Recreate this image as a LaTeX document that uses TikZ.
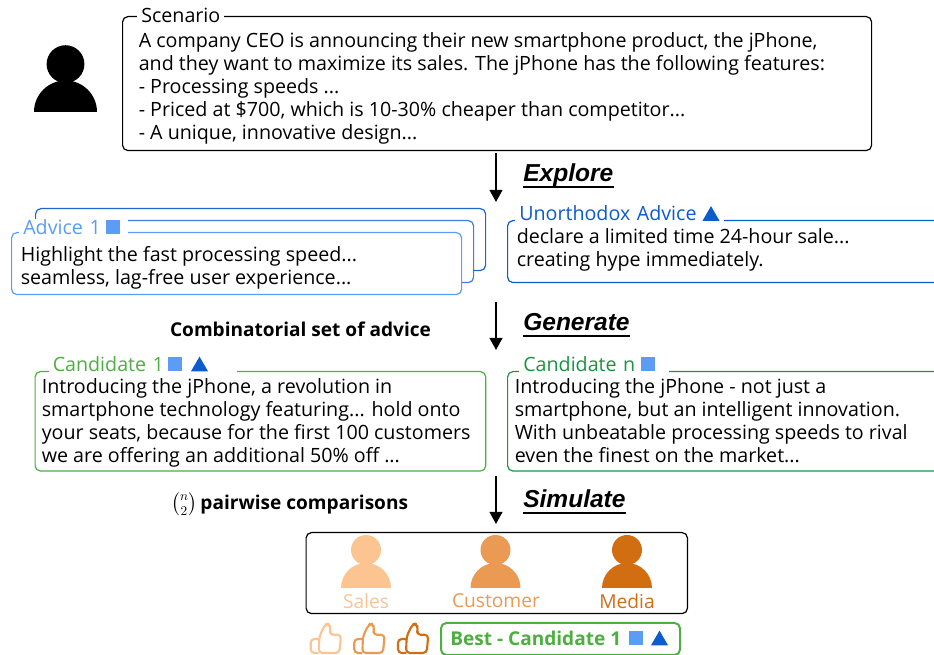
\documentclass[tikz,border=0pt]{standalone}
\usepackage{amsmath}
\usepackage{fontspec}
\setmainfont{Open Sans}
\newfontfamily\headfont{Liberation Sans}
\usetikzlibrary{arrows.meta,positioning,shapes.geometric}

\definecolor{advicea}{HTML}{5B9CF5}
\definecolor{adviceb}{HTML}{3A7FE0}
\definecolor{advicec}{HTML}{1F66CC}
\definecolor{unortho}{HTML}{0B5CCE}
\definecolor{canda}{HTML}{4CAF3F}
\definecolor{candn}{HTML}{1B9440}
\definecolor{sales}{HTML}{FBC490}
\definecolor{customer}{HTML}{EA9A53}
\definecolor{media}{HTML}{D26E12}

\tikzset{
    box/.style = {draw, rounded corners=4pt, line width=0.9pt, anchor=north west, inner sep=0pt},
    bodytext/.style = {anchor=west, align=left, inner sep=0pt, font=\fontsize{14.75}{17.25}\selectfont},
    titletext/.style = {anchor=west, align=left, fill=white, inner xsep=3pt, inner ysep=1pt, font=\fontsize{14.75}{17.25}\selectfont},
    boldtext/.style = {inner sep=0pt, font=\fontsize{14.3}{16}\selectfont\bfseries},
    headtext/.style = {anchor=base west, inner sep=0pt, text depth=3.8pt, font=\fontsize{18.4}{20}\headfont\bfseries\itshape},
    headline/.style = {line width=1.4pt},
    step arrow/.style = {line width=1.4pt, -{Triangle[length=9pt,width=9.5pt]}},
    sqmark/.style = {fill=advicea, minimum size=10.5pt, inner sep=0pt},
    trimark/.style = {fill=unortho, regular polygon, regular polygon sides=3, minimum size=14.7pt, inner sep=0pt, yshift=-1.8pt},
    rolelabel/.style = {inner sep=0pt, font=\fontsize{14.4}{16}\selectfont},
    person/.pic = {
        \fill[pic actions] (0,38) circle (15);
        \fill[pic actions] (-25,0) arc (180:0:25) -- cycle;
    },
    thumb/.pic = {
        \draw[pic actions, line width=1.6pt, rounded corners=2.8pt, line join=round]
            (-6.3,1.7) -- (-0.7,13.5) -- (3.5,14.5) -- (5,9) -- (3.7,3.3) -- (15.3,3.3) -- (13.7,-15) -- (-7,-15) -- cycle;
        \draw[pic actions, line width=1.6pt, rounded corners=2.8pt]
            (-6.8,-1) -- (-15,-1) -- (-15,-15) -- (-7,-15);
    }
}

\begin{document}
\begin{tikzpicture}[x=0.75pt,y=0.75pt]
\useasboundingbox (0,0) rectangle (934,655);

\pic[fill=black,scale=1.26] (user) at (65.5,543) {person};

\node[box, minimum width=561.75pt, minimum height=100.5pt] (scenario) at (122,639) {};
\node[titletext] (scenariotitle) at (137,640) {Scenario};
\node[bodytext] (scenariotext) at (138.5,566.5) {A company CEO is announcing their new smartphone product, the jPhone,\\
and they want to maximize its sales. The jPhone has the following features:\\
- Processing speeds ...\\
- Priced at \$700, which is 10-30\% cheaper than competitor...\\
- A unique, innovative design...};

\coordinate (explorestart) at (496,502);
\coordinate (exploreend) at (496,453);
\draw[step arrow] (explorestart) -- (exploreend);
\node[headtext] (explore) at (523,473) {Explore};
\draw[headline] (explore.south west) -- (explore.south east);

\node[box, draw=advicec, minimum width=337.5pt, minimum height=46.5pt] (advicethree) at (35,447) {};
\node[box, draw=adviceb, fill=white, minimum width=337.5pt, minimum height=46.5pt] (advicetwo) at (23,435) {};
\node[box, draw=advicea, fill=white, minimum width=337.5pt, minimum height=46.5pt] (adviceone) at (11,423) {};
\node[titletext, text=advicea, text width=75.75pt, inner ysep=0pt] (advicetitle) at (19,428) {Advice 1};
\node[sqmark] (advicesq) at (113,428) {};
\node[bodytext] (advicetext) at (20.5,387.5) {Highlight the fast processing speed...\\
seamless, lag-free user experience...};

\node[box, draw=unortho, minimum width=375pt, minimum height=46.5pt] (unorthodox) at (507,435) {};
\node[titletext, text=unortho, text width=150.75pt] (unorthodoxtitle) at (515,442) {Unorthodox Advice};
\node[trimark] (unorthodoxtri) at (711,441.5) {};
\node[bodytext] (unorthodoxtext) at (516.5,405.5) {declare a limited time 24-hour sale...\\
creating hype immediately.};

\coordinate (generatestart) at (496,353);
\coordinate (generateend) at (496,305);
\draw[step arrow] (generatestart) -- (generateend);
\node[headtext] (generate) at (523,324) {Generate};
\draw[headline] (generate.south west) -- (generate.south east);
\node[boldtext] (combinatorial) at (300.5,326) {Combinatorial set of advice};

\node[box, draw=canda, minimum width=338pt, minimum height=74.6pt] (candone) at (34.5,284) {};
\node[titletext, text=canda, text width=135pt] (candonetitle) at (48.5,291) {Candidate 1};
\node[sqmark] (candonesq) at (175,291) {};
\node[trimark] (candonetri) at (199.5,291) {};
\node[bodytext] (candonetext) at (41.5,232.5) {Introducing the jPhone, a revolution in\\
smartphone technology featuring... hold onto\\
your seats, because for the first 100 customers\\
we are offering an additional 50\% off ...};

\node[box, draw=candn, minimum width=375pt, minimum height=74.6pt] (candlast) at (507,284) {};
\node[titletext, text=candn, text width=106pt] (candlasttitle) at (519,291) {Candidate n};
\node[sqmark] (candlastsq) at (648,291) {};
\node[bodytext] (candlasttext) at (514.5,234.5) {Introducing the jPhone - not just a\\
smartphone, but an intelligent innovation.\\
With unbeatable processing speeds to rival\\
even the finest on the market...};

\coordinate (simulatestart) at (496,179);
\coordinate (simulateend) at (496,131);
\draw[step arrow] (simulatestart) -- (simulateend);
\node[headtext] (simulate) at (523,147) {Simulate};
\draw[headline] (simulate.south west) -- (simulate.south east);
\node[boldtext, anchor=west] (pairwise) at (171,150.5) {$\binom{n}{2}$\hspace{-1pt} pairwise comparisons};

\node[box, minimum width=286pt, minimum height=60.75pt] (panel) at (305.5,123) {};
\pic[fill=sales] (salesicon) at (366,67) {person};
\pic[fill=customer] (customericon) at (495.5,67) {person};
\pic[fill=media] (mediaicon) at (627,67) {person};
\node[rolelabel, text=sales] (saleslabel) at (366,54) {Sales};
\node[rolelabel, text=customer] (customerlabel) at (496,54) {Customer};
\node[rolelabel, text=media] (medialabel) at (627,54) {Media};

\pic[draw=sales] (salesthumb) at (325.7,17) {thumb};
\pic[draw=customer] (customerthumb) at (369.3,17) {thumb};
\pic[draw=media] (mediathumb) at (413,17) {thumb};

\node[box, draw=canda, line width=1.5pt, minimum width=179.25pt, minimum height=24pt] (best) at (440,33) {};
\node[boldtext, anchor=west, text=canda] (besttext) at (450,17) {Best - Candidate 1};
\node[sqmark] (bestsq) at (636,17) {};
\node[trimark] (besttri) at (659.5,17) {};

\end{tikzpicture}
\end{document}
